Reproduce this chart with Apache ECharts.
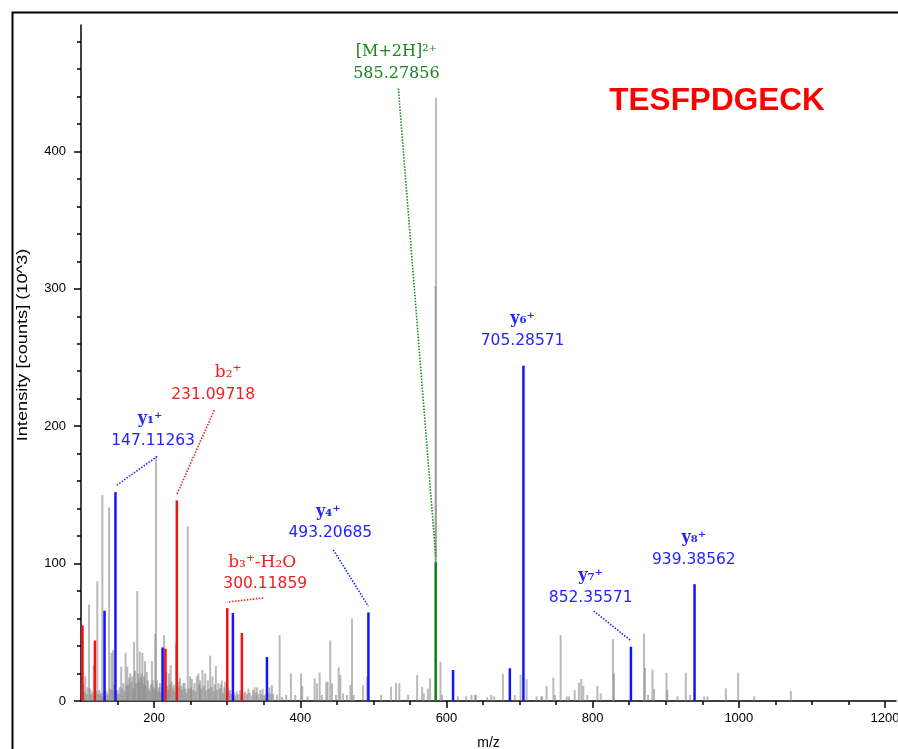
<!DOCTYPE html>
<html><head><meta charset="utf-8">
<script src="https://cdn.jsdelivr.net/npm/echarts@6/dist/echarts.min.js"></script>
<style>html,body{margin:0;padding:0;background:#fff}#c{width:898px;height:749px}</style>
</head><body><div id="c"></div>
<script>
// ---------------- DATA ----------------
// unassigned fragment peaks [m/z, intensity (10^3 counts)]
const grayPeaks = [
[100.8,9],[101.6,6],[103.5,12],[104.8,7],[105.9,18],[107.5,5],[109.0,10],[111.0,70],[112.3,9],[113.8,5],
[115.5,7],[117.4,26],[118.3,4],[120.5,7],[122.3,87],[123.6,5],[125.0,8],[126.5,6],[127.8,4],[129.2,150],
[130.3,6],[133.5,4],[135.0,7],[136.5,5],[138.4,141],[139.6,9],[141.5,35],[142.6,8],[143.8,37],[145.2,12],
[148.5,6],[150.0,8],[151.5,5],[153.0,10],[155.0,25],[156.4,9],[158.0,13],[159.5,7],[161.0,35],[162.3,11],
[163.4,25],[164.6,12],[166.0,17],[167.5,20],[169.0,14],[170.4,18],[171.6,9],[172.6,43],[174.0,22],[175.3,13],
[177.0,80],[178.2,20],[179.3,14],[180.4,36],[181.7,17],[183.0,20],[184.0,35],[185.3,13],[186.4,18],[187.5,29],
[188.6,11],[190.0,21],[191.4,15],[192.8,9],[194.2,7],[195.5,12],[197.0,29],[198.2,15],[199.4,10],[200.5,8],
[201.5,49],[202.7,178],[204.0,15],[205.3,7],[206.6,10],[208.0,13],[209.3,6],[210.5,10],[213.7,48],[216.8,21],
[218.0,11],[219.2,8],[220.3,20],[221.5,12],[222.6,26],[224.0,14],[225.5,9],[227.0,12],[228.4,7],[230.0,42],
[232.5,10],[234.0,14],[235.5,17],[237.0,11],[238.4,8],[240.0,13],[241.5,13],[243.0,9],[244.5,6],[246.1,127],
[247.5,9],[249.3,18],[250.5,10],[251.6,16],[253.5,8],[255.2,13],[256.8,7],[258.5,18],[260.7,20],[262.0,12],
[263.0,15],[264.5,9],[266.2,22.5],[268.0,11],[269.9,20],[271.5,8],[273.5,15],[275.0,9],[276.7,33],[278.3,10],
[279.9,18],[281.5,7],[283.0,12],[284.5,25.5],[286.2,8],[288.0,13],[290.0,9],[291.2,12],[292.7,15],[294.5,6],
[296.0,10],[297.3,14],[298.8,7],[301.5,10],[303.0,6],[304.0,8],[306.0,5],[309.5,6],[311.0,4],[313.0,7],
[315.0,5],[317.5,8],[319.0,4],[322.5,6],[324.7,7],[327.0,5],[329.0,9],[331.0,6],[333.5,4],[335.5,8],
[337.4,10],[339.0,6],[340.7,10],[342.5,5],[345.2,8],[346.8,5],[348.4,9],[350.5,4],[352.5,5],[356.0,6],
[358.0,10],[359.5,5],[361.2,11.6],[363.0,5],[368.0,4.4],[371.7,48],[375.0,3],[380.8,4.4],[387.2,20],[393.2,4.4],
[401.0,20],[402.7,11],[410.0,3.4],[419.6,16.5],[422.8,12.8],[426.5,20.6],[429.7,4.4],[435.6,14],[437.4,14],[441.0,44],
[443.4,12.8],[448.9,4.4],[452.5,24.5],[454.8,19],[458.5,5.5],[464.0,4.4],[468.5,11.6],[470.8,60],[473.0,4.4],[485.9,11.6],
[491.4,17.7],[510.5,4.4],[524.2,10.4],[531.0,13],[535.5,13],[547.5,4.4],[559.9,19],[566.7,10.4],[569.0,5.5],[574.5,9],
[577.6,16.5],[585.1,302],[585.6,439],[591.8,28.6],[594.0,4.4],[615.5,3.4],[627.0,3.4],[634.2,4.4],[638.8,4.4],[640.6,4.4],
[655.7,2.7],[661.2,4.4],[665.3,3.4],[677.2,19.6],[693.6,4.4],[701.4,19],[709.6,16],[723.3,3.4],[729.7,3.4],[731.1,3.4],
[737.0,11],[746.2,17],[748.4,4.4],[756.2,48],[764.4,3.4],[767.5,3.4],[775.3,8],[781.2,13.3],[784.5,16],[787.2,11],
[792.7,4.4],[806.4,11],[811.0,5.5],[827.8,45],[829.2,20],[870.3,49],[871.6,24],[875.8,4.4],[881.8,23],[884.0,8.7],
[901.0,20.6],[902.3,8],[916.0,3.4],[927.4,20.6],[933.3,4.4],[952.5,3.4],[957.1,3.4],[982.2,9.2],[999.0,20.6],[1021.0,3.4],
[1071.2,7.3]
];
// b-ion series peaks
const bIonPeaks = [[102.05,55],[119.0,44],[215.5,38],[231.09718,146],[300.11859,67.6],[320.1,49.5]];
// y-ion series peaks
const yIonPeaks = [[132.2,65.7],[147.11263,152],[211.6,39],[307.8,64],[354.4,32],[493.20685,64.5],
  [609.0,22.5],[686.7,23.8],[705.28571,244],[852.35571,39.5],[939.38562,85]];
// precursor
const precursorPeaks = [[585.27856,101]];

// annotated ions
const annoIons = ['y\u2081\u207A','b\u2082\u207A','b\u2083\u207A-H\u2082O','y\u2084\u207A','[M+2H]\u00B2\u207A','y\u2086\u207A','y\u2087\u207A','y\u2088\u207A'];
const annoText = ['147.11263','231.09718','300.11859','493.20685','585.27856','705.28571','852.35571','939.38562'];
const annoMz = [147.11263,231.09718,300.11859,493.20685,585.27856,705.28571,852.35571,939.38562];
const annoIntensity = [152,146,67.6,64.5,101,244,39.5,85];
const annoKind = ['y','b','b','y','M','y','y','y'];

const peptide = 'TESFPDGECK';
const xTickValues = [150,200,250,300,350,400,450,500,550,600,650,700,750,800,850,900,950,1000,1050,1100,1150,1200];
const xLabelValues = [200,400,600,800,1000,1200];
const yTickValues = [0,20,40,60,80,100,120,140,160,180,200,220,240,260,280,300,320,340,360,380,400,420,440,460,480];
const yLabelValues = [0,100,200,300,400];

// ---------------- LAYOUT / STYLE ----------------
const labelAt = [[198.6,189],[280.8,223],[352,85],[441.1,122],[531.5,456.7],[704.1,261.8],[797.3,75],[938.4,102.5]];
const leaderFrom = [[204.1,178],[282.2,211.6],[349.3,75],[445.2,110],[534.2,445.8],null,[801.4,65.5],null];
const ionDx = [-3,15,-3,-2,0,0,0,0];
const kindColor = {y:'#2424ff', b:'#f01e1e', M:'#1b861b'};
const peakColor = {y:'#1414ff', b:'#f01414', M:'#168016'};

const chart = echarts.init(document.getElementById('c'), null, {renderer:'canvas'});

function stick(color, width){
  return function(params, api){
    const top = api.coord([api.value(0), api.value(1)]);
    const base = api.coord([api.value(0), 0]);
    return {type:'line', shape:{x1:top[0], y1:top[1], x2:base[0], y2:base[1]},
      style:{stroke:color, lineWidth:width}};
  };
}

const axFont = 'Liberation Sans';
const plain = v => String(v);
const option = {
  animation:false,
  backgroundColor:'#fff',
  grid:{left:81, right:2, top:25, bottom:48, containLabel:false, outerBoundsMode:'none'},
  xAxis:[{
    type:'value', min:100, max:1215, gridIndex:0,
    axisLine:{lineStyle:{color:'#000', width:1.5}},
    axisTick:{customValues:xTickValues, length:4, lineStyle:{color:'#000', width:1.5}},
    axisLabel:{customValues:xLabelValues, formatter:plain, color:'#000', fontFamily:axFont, fontSize:13, margin:11},
    splitLine:{show:false},
    name:'m/z', nameLocation:'middle', nameGap:35,
    nameTextStyle:{color:'#000', fontFamily:axFont, fontSize:14}
  },{
    type:'value', min:100, max:1215, gridIndex:0, position:'bottom',
    axisLine:{show:false},
    axisTick:{customValues:xLabelValues, length:7, lineStyle:{color:'#000', width:1.5}},
    axisLabel:{show:false}, splitLine:{show:false}
  }],
  yAxis:[{
    type:'value', min:0, max:492, gridIndex:0,
    axisLine:{show:true, lineStyle:{color:'#000', width:1.5}},
    axisTick:{show:true, customValues:yTickValues, length:4, lineStyle:{color:'#000', width:1.5}},
    axisLabel:{customValues:yLabelValues, formatter:plain, color:'#000', fontFamily:axFont, fontSize:13, margin:15},
    splitLine:{show:false}
  },{
    type:'value', min:0, max:492, gridIndex:0, position:'left',
    axisLine:{show:false},
    axisTick:{show:true, customValues:yLabelValues, length:7, lineStyle:{color:'#000', width:1.5}},
    axisLabel:{show:false}, splitLine:{show:false}
  }],
  graphic:[
    {type:'rect', left:10, top:10, shape:{x:0,y:0,width:1000,height:1000}, style:{fill:'none', stroke:'#000', lineWidth:2}, silent:true, z:-1},
    {type:'text', x:717, y:101, style:{text:peptide, fill:'#ff0000', font:'bold 31.5px "Liberation Sans", Arial', align:'center', verticalAlign:'middle'}},
    {type:'text', x:23, y:345, rotation:Math.PI/2, scaleX:1.3, style:{text:'Intensity [counts] (10^3)', fill:'#000', font:'14px "Liberation Sans", Arial', align:'center', verticalAlign:'middle'}}
  ],
  series:[
    {type:'custom', name:'other', renderItem:stick('rgba(130,130,130,0.55)', 2), data:grayPeaks, clip:true, z:2},
    {type:'custom', name:'b', renderItem:stick(peakColor.b, 2.5), data:bIonPeaks, clip:true, z:3},
    {type:'custom', name:'y', renderItem:stick(peakColor.y, 2.5), data:yIonPeaks, clip:true, z:3},
    {type:'custom', name:'M', renderItem:stick(peakColor.M, 2.5), data:precursorPeaks, clip:true, z:3},
    {type:'custom', name:'labels', z:5,
      data: annoMz.map((m,i)=>[m, annoIntensity[i]]),
      renderItem:function(params, api){
        const i = params.dataIndex;
        const col = kindColor[annoKind[i]];
        const c = api.coord(labelAt[i]);
        const peak = api.coord([annoMz[i], annoIntensity[i]]);
        const numFont = annoKind[i]==='M' ? '16px "DejaVu Serif", serif' : '15.5px "DejaVu Sans", sans-serif';
        const ionFont = annoKind[i]==='y' ? 'bold 16px "DejaVu Serif", serif' : (annoKind[i]==='b' ? '17px "DejaVu Serif", serif' : '16px "DejaVu Serif", serif');
        const ch = [
          {type:'text', style:{text:annoText[i], x:c[0], y:c[1], fill:col, font:numFont, align:'center', verticalAlign:'middle'}},
          {type:'text', style:{text:annoIons[i], x:c[0]+ionDx[i], y:c[1]-22, fill:col, font:ionFont, align:'center', verticalAlign:'middle'}}
        ];
        if (leaderFrom[i]) {
          const s = api.coord(leaderFrom[i]);
          ch.push({type:'line', shape:{x1:s[0], y1:s[1], x2:peak[0], y2:peak[1]-6},
            style:{stroke:col, lineWidth:1.6, lineDash:[1.5,1.5]}});
        }
        return {type:'group', children:ch};
      }
    }
  ]
};
chart.setOption(option);
</script></body></html>
